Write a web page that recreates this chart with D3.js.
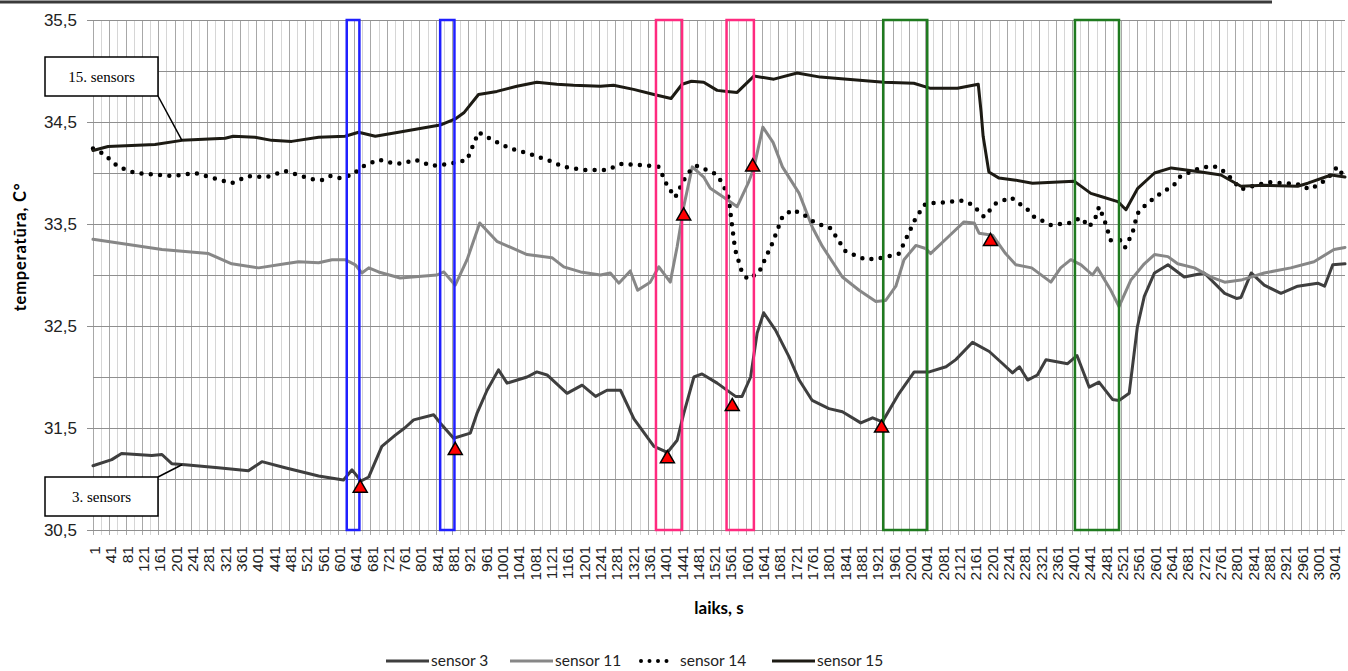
<!DOCTYPE html>
<html>
<head>
<meta charset="utf-8">
<script src="https://d3js.org/d3.v7.min.js"></script>
<style>
  body { margin: 0; background: #fff; }
  svg { display: block; }
</style>
</head>
<body>
<div id="chart"></div>
<script>

// series values: [laiks (s), temperature]
var sensor3 = [[1,31.13],[47,31.19],[71,31.25],[145,31.23],[170,31.24],[194,31.15],[227,31.14],[308,31.11],[382,31.08],[415,31.17],[472,31.11],[554,31.03],[615,30.99],[636,31.09],[658,30.98],[677,31.02],[709,31.32],[742,31.43],[765,31.50],[787,31.58],[836,31.63],[852,31.55],[885,31.40],[926,31.45],[942,31.64],[967,31.87],[995,32.07],[1016,31.94],[1065,32.00],[1089,32.05],[1114,32.02],[1163,31.84],[1200,31.92],[1233,31.81],[1261,31.87],[1294,31.87],[1327,31.59],[1376,31.32],[1409,31.26],[1433,31.38],[1449,31.64],[1474,32.00],[1494,32.03],[1531,31.94],[1576,31.81],[1592,31.81],[1613,32.00],[1629,32.43],[1645,32.63],[1674,32.46],[1707,32.20],[1732,31.97],[1764,31.77],[1805,31.69],[1838,31.66],[1883,31.55],[1912,31.60],[1936,31.56],[1977,31.84],[2014,32.05],[2051,32.05],[2092,32.10],[2116,32.17],[2157,32.34],[2198,32.25],[2231,32.13],[2255,32.04],[2272,32.10],[2292,31.97],[2316,32.02],[2337,32.17],[2390,32.13],[2413,32.21],[2443,31.90],[2467,31.95],[2500,31.78],[2516,31.77],[2541,31.84],[2561,32.49],[2578,32.79],[2603,33.02],[2636,33.10],[2676,32.98],[2725,33.02],[2775,32.82],[2804,32.77],[2815,32.78],[2840,33.02],[2872,32.90],[2913,32.82],[2954,32.89],[3003,32.92],[3020,32.89],[3040,33.10],[3070,33.11]];

var sensor11 = [[1,33.35],[104,33.29],[170,33.25],[227,33.23],[284,33.21],[341,33.11],[407,33.07],[472,33.11],[505,33.13],[554,33.12],[587,33.15],[619,33.15],[644,33.10],[660,33.02],[677,33.07],[701,33.03],[754,32.97],[844,33.00],[861,33.03],[889,32.90],[918,33.15],[949,33.51],[991,33.33],[1065,33.20],[1126,33.17],[1155,33.08],[1196,33.03],[1245,33.00],[1269,33.02],[1290,32.92],[1318,33.04],[1336,32.85],[1367,32.93],[1388,33.08],[1416,32.93],[1433,33.28],[1449,33.67],[1470,34.06],[1498,33.96],[1514,33.85],[1555,33.74],[1580,33.67],[1607,33.90],[1621,34.05],[1643,34.45],[1668,34.30],[1691,34.06],[1732,33.80],[1764,33.47],[1789,33.28],[1838,32.98],[1879,32.85],[1920,32.74],[1944,32.75],[1969,32.89],[1989,33.15],[2018,33.29],[2042,33.26],[2054,33.21],[2099,33.38],[2136,33.52],[2161,33.51],[2173,33.41],[2206,33.39],[2238,33.21],[2263,33.10],[2302,33.07],[2349,32.93],[2373,33.07],[2398,33.15],[2423,33.10],[2451,33.00],[2463,33.07],[2496,32.85],[2516,32.69],[2545,32.95],[2578,33.11],[2603,33.20],[2636,33.18],[2660,33.11],[2701,33.07],[2742,32.98],[2775,32.93],[2815,32.95],[2872,33.02],[2937,33.07],[2994,33.13],[3043,33.25],[3070,33.27]];

var sensor14 = [[1,34.24],[26,34.19],[63,34.06],[104,34.00],[194,33.97],[251,34.00],[341,33.90],[382,33.97],[427,33.96],[472,34.02],[538,33.94],[562,33.93],[583,33.97],[603,33.95],[636,33.98],[660,34.06],[701,34.13],[742,34.09],[766,34.10],[791,34.13],[832,34.07],[877,34.09],[918,34.13],[946,34.40],[987,34.31],[1024,34.24],[1069,34.19],[1114,34.13],[1155,34.06],[1204,34.03],[1261,34.03],[1298,34.09],[1367,34.07],[1388,34.06],[1408,33.88],[1428,33.76],[1449,33.93],[1466,34.03],[1482,34.07],[1523,34.00],[1543,33.91],[1559,33.76],[1567,33.50],[1575,33.25],[1590,33.05],[1605,32.96],[1633,33.02],[1666,33.31],[1691,33.57],[1715,33.64],[1740,33.60],[1772,33.51],[1809,33.46],[1846,33.23],[1895,33.15],[1936,33.17],[1977,33.21],[2018,33.56],[2042,33.70],[2083,33.71],[2132,33.73],[2157,33.69],[2185,33.57],[2214,33.70],[2251,33.76],[2292,33.64],[2308,33.57],[2349,33.49],[2394,33.51],[2423,33.56],[2443,33.47],[2459,33.57],[2467,33.67],[2480,33.54],[2496,33.34],[2521,33.34],[2531,33.27],[2549,33.41],[2561,33.60],[2582,33.69],[2611,33.78],[2631,33.83],[2652,33.89],[2664,33.96],[2701,34.03],[2742,34.07],[2762,34.05],[2783,33.98],[2815,33.84],[2881,33.91],[2954,33.89],[2983,33.84],[3007,33.89],[3028,33.95],[3051,34.06],[3065,33.98]];

var sensor15 = [[1,34.22],[38,34.26],[153,34.28],[219,34.32],[325,34.34],[345,34.36],[398,34.35],[439,34.32],[488,34.31],[554,34.35],[619,34.36],[652,34.40],[693,34.36],[750,34.40],[852,34.47],[889,34.53],[910,34.59],[946,34.77],[991,34.80],[1040,34.85],[1089,34.89],[1138,34.87],[1179,34.86],[1245,34.85],[1277,34.86],[1326,34.82],[1376,34.77],[1418,34.73],[1445,34.87],[1468,34.90],[1498,34.89],[1531,34.81],[1555,34.80],[1580,34.79],[1621,34.95],[1670,34.92],[1727,34.98],[1784,34.94],[1850,34.92],[1940,34.89],[2013,34.88],[2054,34.83],[2120,34.83],[2171,34.87],[2178,34.60],[2183,34.36],[2197,34.01],[2222,33.95],[2263,33.93],[2304,33.90],[2406,33.92],[2447,33.80],[2472,33.77],[2513,33.72],[2533,33.64],[2562,33.85],[2603,34.00],[2644,34.05],[2717,34.01],[2766,33.98],[2815,33.87],[2872,33.88],[2954,33.87],[2979,33.90],[3036,33.98],[3070,33.96]];

// red triangle markers
var markers = [[656,30.91],[889,31.28],[1409,31.20],[1449,33.58],[1568,31.71],[1618,34.06],[1934,31.50],[2201,33.33]];

// highlighted intervals [from, to]
var blueBoxes = [[623,654],[852,887]];
var pinkBoxes = [[1381,1445],[1554,1621]];
var greenBoxes = [[1938,2046],[2408,2516]];

// tick labels
var xTickValues = d3.range(1, 3042, 40);
var xGridValues = d3.range(1, 3062, 20);
var yTickValues = [30.5, 31.5, 32.5, 33.5, 34.5, 35.5];
var yGridValues = [30.5, 31, 31.5, 32, 32.5, 33, 33.5, 34, 34.5, 35, 35.5];

var seriesNames = ["sensor 3", "sensor 11", "sensor 14", "sensor 15"];

var W = 1348, H = 671;
var x = d3.scaleLinear().domain([1, 3070]).range([93, 1345]);
var y = d3.scaleLinear().domain([30.5, 35.5]).range([530, 20]);

var svg = d3.select("#chart").append("svg")
  .attr("width", W).attr("height", H);

// top border line
svg.append("line")
  .attr("x1", 0).attr("x2", 1272).attr("y1", 2).attr("y2", 2)
  .attr("stroke", "#3a3a3a").attr("stroke-width", 3);

// vertical grid
svg.append("g").selectAll("line")
  .data(xGridValues)
  .enter().append("line")
  .attr("x1", function (d) { return Math.round(x(d)) + 0.5; })
  .attr("x2", function (d) { return Math.round(x(d)) + 0.5; })
  .attr("y1", 20).attr("y2", 535)
  .attr("stroke", function (d) { return (d - 1) % 40 == 0 ? "#a8a8a8" : "#d6d6d6"; })
  .attr("stroke-width", 1);

// horizontal grid
svg.append("g").selectAll("line")
  .data(yGridValues)
  .enter().append("line")
  .attr("x1", function (d) { return yTickValues.indexOf(d) >= 0 ? 87 : 93; })
  .attr("x2", 1345)
  .attr("y1", function (d) { return Math.round(y(d)) + 0.5; })
  .attr("y2", function (d) { return Math.round(y(d)) + 0.5; })
  .attr("stroke", "#8f8f8f").attr("stroke-width", 1);

// y labels
svg.append("g").selectAll("text")
  .data(yTickValues)
  .enter().append("text")
  .attr("x", 77)
  .attr("y", function (d) { return y(d); })
  .attr("dy", "0.36em")
  .attr("text-anchor", "end")
  .style("font-family", "Liberation Sans, Arial, sans-serif")
  .style("font-size", "17px")
  .attr("fill", "#222")
  .text(function (d) { return d3.format(".1f")(d).replace(".", ","); });

// x labels
svg.append("g").selectAll("text")
  .data(xTickValues)
  .enter().append("text")
  .attr("transform", function (d) { return "translate(" + (x(d) + 1.5) + ",546) rotate(-90)"; })
  .attr("dy", "0.36em")
  .attr("text-anchor", "end")
  .style("font-family", "Liberation Sans, Arial, sans-serif")
  .style("font-size", "15.5px")
  .attr("fill", "#222")
  .text(function (d) { return d; });

// axis titles
svg.append("text")
  .attr("transform", "translate(26,247) rotate(-90)")
  .attr("text-anchor", "middle")
  .style("font-family", "Lato, sans-serif")
  .style("font-weight", "bold")
  .style("font-size", "16.5px")
  .style("letter-spacing", "0.8px")
  .text("temperatūra, C°");

svg.append("text")
  .attr("x", 719).attr("y", 614)
  .attr("text-anchor", "middle")
  .style("font-family", "Lato, sans-serif")
  .style("font-weight", "bold")
  .style("font-size", "17px")
  .text("laiks, s");

// lines
var line = d3.line()
  .x(function (d) { return x(d[0]); })
  .y(function (d) { return y(d[1]); });

var series = [
  { name: seriesNames[0], data: sensor3, color: "#3f3f3f", dash: null, width: 3 },
  { name: seriesNames[1], data: sensor11, color: "#878787", dash: null, width: 3 },
  { name: seriesNames[2], data: sensor14, color: "#000", dash: "0,9.3", width: 4.5 },
  { name: seriesNames[3], data: sensor15, color: "#1d1b14", dash: null, width: 3 }
];

series.forEach(function (s) {
  svg.append("path")
    .datum(s.data)
    .attr("d", line)
    .attr("fill", "none")
    .attr("stroke", s.color)
    .attr("stroke-width", s.width)
    .attr("stroke-linejoin", "round")
    .attr("stroke-linecap", "round")
    .attr("stroke-dasharray", s.dash);
});

// highlight boxes
function boxes(data, color) {
  svg.append("g").selectAll("rect")
    .data(data)
    .enter().append("rect")
    .attr("x", function (d) { return x(d[0]); })
    .attr("width", function (d) { return x(d[1]) - x(d[0]); })
    .attr("y", y(35.5))
    .attr("height", y(30.5) - y(35.5))
    .attr("fill", "none")
    .attr("stroke", color)
    .attr("stroke-width", 2.5);
}
boxes(blueBoxes, "#1f1fff");
boxes(pinkBoxes, "#ff2a7f");
boxes(greenBoxes, "#1f7a1f");

// triangles
svg.append("g").selectAll("path")
  .data(markers)
  .enter().append("path")
  .attr("d", d3.symbol().type(d3.symbolTriangle).size(85))
  .attr("transform", function (d) { return "translate(" + x(d[0]) + "," + y(d[1]) + ")"; })
  .attr("fill", "#ff0000")
  .attr("stroke", "#000")
  .attr("stroke-width", 1.5);

// callouts
var callouts = [
  { label: "15. sensors", at: [219, 34.32], box: [45, 57, 113, 39], corner: [158, 96] },
  { label: "3. sensors", at: [219, 31.14], box: [45, 477, 113, 39], corner: [158, 477] }
];
callouts.forEach(function (c) {
  svg.append("line")
    .attr("x1", c.corner[0]).attr("y1", c.corner[1])
    .attr("x2", x(c.at[0])).attr("y2", y(c.at[1]))
    .attr("stroke", "#000").attr("stroke-width", 1.5);
  svg.append("rect")
    .attr("x", c.box[0]).attr("y", c.box[1])
    .attr("width", c.box[2]).attr("height", c.box[3])
    .attr("fill", "#fff").attr("stroke", "#000").attr("stroke-width", 1.5);
  svg.append("text")
    .attr("x", c.box[0] + c.box[2] / 2).attr("y", c.box[1] + c.box[3] / 2)
    .attr("dy", "0.35em")
    .attr("text-anchor", "middle")
    .style("font-family", "Liberation Serif, Times New Roman, serif")
    .style("font-size", "15px")
    .text(c.label);
});

// legend
var legendX = [386, 510, 641, 772];
var lg = svg.append("g");
series.forEach(function (s, i) {
  lg.append("line")
    .attr("x1", legendX[i]).attr("x2", legendX[i] + (s.dash ? 34 : 43))
    .attr("y1", 661).attr("y2", 661)
    .attr("stroke", s.color)
    .attr("stroke-width", s.dash ? 4 : 3)
    .attr("stroke-linecap", s.dash ? "round" : "butt")
    .attr("stroke-dasharray", s.dash ? "0,8.5" : null);
  lg.append("text")
    .attr("x", legendX[i] + (s.dash ? 39 : 45)).attr("y", 661)
    .attr("dy", "0.35em")
    .style("font-family", "Lato, sans-serif")
    .style("font-size", "15.5px")
    .attr("fill", "#222")
    .text(s.name);
});

</script>
</body>
</html>
